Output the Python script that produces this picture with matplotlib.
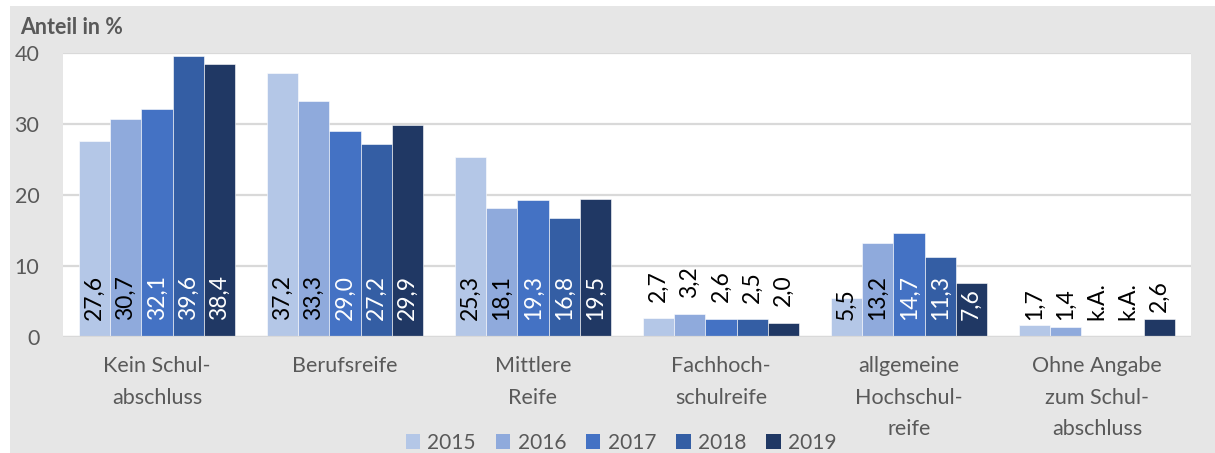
import matplotlib
matplotlib.use("Agg")
import matplotlib.pyplot as plt
import numpy as np
from matplotlib.patches import Rectangle, Patch

categories = ["Kein Schul-\nabschluss", "Berufsreife", "Mittlere\nReife",
              "Fachhoch-\nschulreife", "allgemeine\nHochschul-\nreife",
              "Ohne Angabe\nzum Schul-\nabschluss"]
years = ["2015", "2016", "2017", "2018", "2019"]
values = {
    "2015": [27.6, 37.2, 25.3, 2.7, 5.5, 1.7],
    "2016": [30.7, 33.3, 18.1, 3.2, 13.2, 1.4],
    "2017": [32.1, 29.0, 19.3, 2.6, 14.7, None],
    "2018": [39.6, 27.2, 16.8, 2.5, 11.3, None],
    "2019": [38.4, 29.9, 19.5, 2.0, 7.6, 2.6],
}
colors = ["#b4c7e7", "#8faadc", "#4472c4", "#345ea4", "#203864"]
yticks = [0, 10, 20, 30, 40]

plt.rcParams['font.family'] = ['Lato', 'DejaVu Sans']
W, H = 1215, 453
fig = plt.figure(figsize=(W / 100, H / 100), dpi=100, facecolor="white")
fig.patches.append(Rectangle((10 / W, 0), 1, 1 - 6 / H, transform=fig.transFigure,
                             facecolor="#e6e6e6", edgecolor="none", zorder=-10))

ax = fig.add_axes([63 / W, 1 - 337 / H, (1191 - 63) / W, (337 - 53) / H])
ax.set_facecolor("white")
ax.set_xlim(-0.5, len(categories) - 0.5)
ax.set_ylim(0, 40)

x = np.arange(len(categories))
bw = 0.1664
textc = "#595959"
for i, yr in enumerate(years):
    vals = values[yr]
    pos = x + (i - 2) * bw
    hv = [v if v is not None else 0 for v in vals]
    ax.bar(pos, hv, width=bw, color=colors[i], edgecolor="white", linewidth=0.4, zorder=3)
    for j, v in enumerate(vals):
        if v is None:
            lab = "k.A."
            base = 2.4
            col = "black"
        else:
            lab = f"{v:.1f}".replace(".", ",")
            if j == 3:
                base = v + 2.3
            elif j == 5 and v > 2.0:
                base = v + 0.9
            else:
                base = 2.4
            inside = base + 4.5 <= v
            col = "white" if (i >= 2 and inside) else "black"
        ax.text(pos[j], base, lab, rotation=90, ha="center", va="bottom",
                fontsize=16.5, color=col, zorder=5)

ax.set_yticks(yticks)
ax.set_yticklabels([str(t) for t in yticks])
ax.set_xticks(x)
ax.set_xticklabels(categories, linespacing=1.7)
ax.tick_params(axis="both", length=0, labelsize=15.5, labelcolor=textc)
ax.tick_params(axis="y", pad=17)
ax.tick_params(axis="x", pad=14)
for lab in ax.get_xticklabels():
    lab.set_verticalalignment("top")
ax.grid(axis="y", color="#d9d9d9", linewidth=1.6, zorder=0)
ax.set_axisbelow(True)
for s in ax.spines.values():
    s.set_visible(False)
ax.axhline(0, color="#d9d9d9", linewidth=1.6, zorder=4)

fig.text(20 / W, 1 - 27 / H, "Anteil in %", fontsize=15.5, fontweight="bold",
         color=textc, ha="left", va="center")

handles = [Patch(facecolor=c, edgecolor="none") for c in colors]
fig.legend(handles, years, loc="center", bbox_to_anchor=(621 / W, 1 - 443 / H),
           ncol=5, frameon=False, fontsize=15, labelcolor=textc,
           handlelength=0.7, handleheight=0.7, handletextpad=0.35,
           columnspacing=0.95, borderpad=0)

fig.savefig("out.png", dpi=100, facecolor=fig.get_facecolor())
